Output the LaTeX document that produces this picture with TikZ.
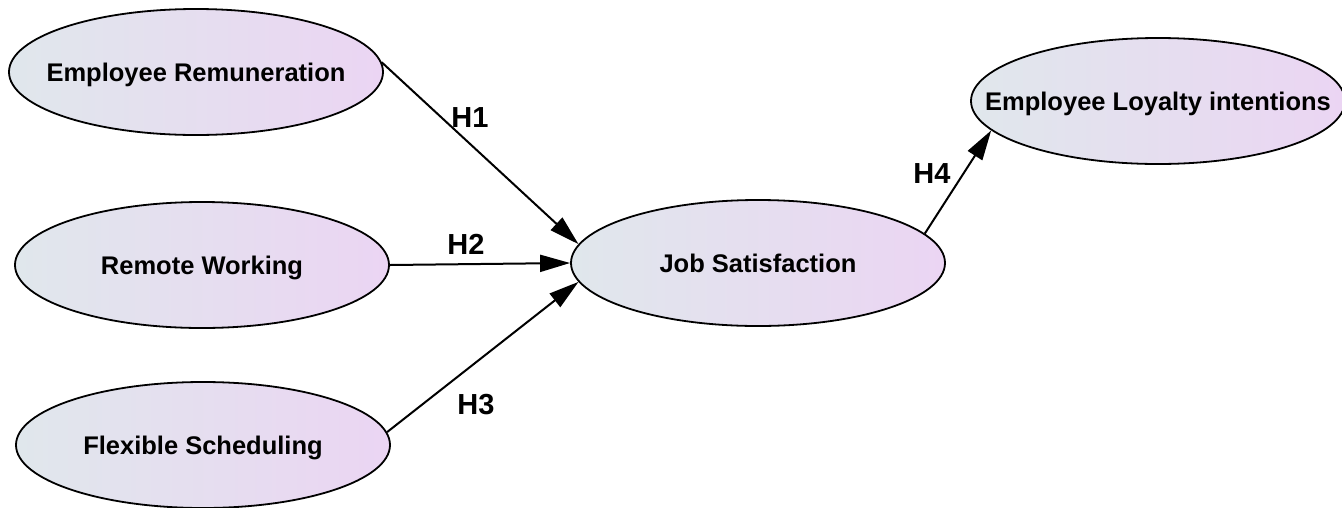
\documentclass[tikz,border=0pt]{standalone}
\usepackage{fontspec}
\setmainfont{Liberation Sans}
\usetikzlibrary{shapes.geometric, arrows.meta}

% Text that does not widen its ellipse
\newcommand{\ctxt}[1]{\makebox[0pt]{#1}}

\begin{document}
\begin{tikzpicture}[x=1pt, y=-1pt,
    construct/.style={ellipse, draw, line width=1.8pt, minimum width=374pt, minimum height=126pt, inner sep=0pt, left color=constleft, right color=constright, font=\fontsize{25.5}{30}\selectfont\bfseries, text height=18pt, text depth=0pt},
    hyp/.style={line width=2pt, -{Triangle[length=30pt, width=17pt]}},
    hlabel/.style={font=\fontsize{29}{34}\selectfont\bfseries, inner sep=0pt, text height=21pt, text depth=0pt}]

% Define colors
\definecolor{constleft}{RGB}{224, 231, 236}
\definecolor{constright}{RGB}{235, 213, 243}

% Frame of the picture
\useasboundingbox (0,0) rectangle (1342,507);

% Constructs
\node[construct] (remun) at (196,72) {\ctxt{Employee Remuneration}};
\node[construct] (remote) at (202,265) {\ctxt{Remote Working}};
\node[construct] (flex) at (203,445) {\ctxt{Flexible Scheduling}};
\node[construct] (jobsat) at (758,263) {\ctxt{Job Satisfaction}};
\node[construct] (loyal) at (1158,101) {\ctxt{Employee Loyalty intentions}};

% Hypotheses
\draw[hyp] (remun.3) -- (jobsat.174);
\draw[hyp] (remote.east) -- (jobsat.west);
\draw[hyp] (flex.4) -- (jobsat.186);
\draw[hyp] (jobsat.10) -- (loyal.190);

% Labels
\node[hlabel] (h1) at (470,117) {H1};
\node[hlabel] (h2) at (466,244) {H2};
\node[hlabel] (h3) at (476,404) {H3};
\node[hlabel] (h4) at (932,173) {H4};

\end{tikzpicture}
\end{document}
